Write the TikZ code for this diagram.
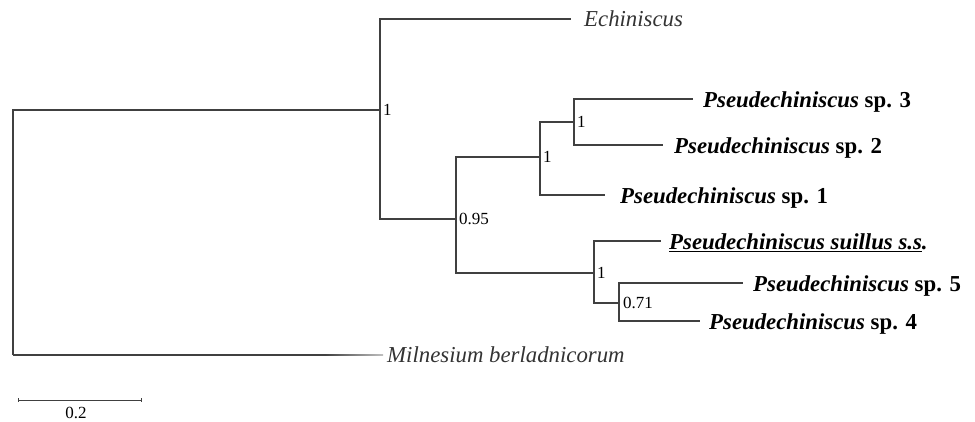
\documentclass[tikz,border=0pt]{standalone}
\usepackage{fontspec}
\setmainfont{Liberation Serif}
\begin{document}
\begin{tikzpicture}[x=1pt,y=-1pt,
  br/.style={draw=black!75,line width=1.1pt},
  taxon/.style={anchor=base west,inner sep=0pt,font=\fontsize{22.8}{27}\selectfont\bfseries},
  outg/.style={anchor=base west,inner sep=0pt,text=black!80,font=\fontsize{22.8}{27}\selectfont\itshape},
  supp/.style={anchor=west,inner sep=0pt,font=\fontsize{17}{20}\selectfont}]
\useasboundingbox (0,0) rectangle (975,421);
% internal nodes
\coordinate (r1) at (13,110);
\coordinate (r2) at (13,355);
\coordinate (A) at (380,110);
\coordinate (B) at (456,219);
\coordinate (C) at (540,157);
\coordinate (D) at (574,122);
\coordinate (E) at (594,273);
\coordinate (F) at (619,303);
% tips
\coordinate (tEch) at (571,19);
\coordinate (t3) at (693,99);
\coordinate (t2) at (663,145);
\coordinate (t1) at (605,195);
\coordinate (tS) at (661,241);
\coordinate (t5) at (743,283);
\coordinate (t4) at (700,321);
\coordinate (mfade) at (325,355);
\coordinate (tMil) at (383,355);
% branches
\draw[br] (r2) -- (r1) -- (A);
\draw[br] (A) |- (tEch);
\draw[br] (A) |- (B);
\draw[br] (B) |- (C);
\draw[br] (C) |- (D);
\draw[br] (D) |- (t3);
\draw[br] (D) |- (t2);
\draw[br] (C) |- (t1);
\draw[br] (B) |- (E);
\draw[br] (E) |- (tS);
\draw[br] (E) |- (F);
\draw[br] (F) |- (t5);
\draw[br] (F) |- (t4);
\draw[br] (r2) -- (mfade);
\shade[left color=black!75,right color=black!25] ([yshift=0.55pt]mfade) rectangle ([yshift=-0.55pt]tMil);
% support values
\node[supp] (sA) at ([xshift=3pt]A) {1};
\node[supp] (sB) at ([xshift=3pt]B) {0.95};
\node[supp] (sC) at ([xshift=3pt]C) {1};
\node[supp] (sD) at ([xshift=3pt]D) {1};
\node[supp] (sE) at ([xshift=3pt]E) {1};
\node[supp] (sF) at ([xshift=4pt]F) {0.71};
% taxon labels
\node[outg] (lEch) at ([xshift=13pt,yshift=-7.5pt]tEch) {Echiniscus};
\node[taxon] (l3) at ([xshift=10pt,yshift=-8pt]t3) {\textit{Pseudechiniscus} sp. 3};
\node[taxon] (l2) at ([xshift=11pt,yshift=-8pt]t2) {\textit{Pseudechiniscus} sp. 2};
\node[taxon] (l1) at ([xshift=15pt,yshift=-8pt]t1) {\textit{Pseudechiniscus} sp. 1};
\node[taxon] (lS) at ([xshift=8pt,yshift=-8pt]tS) {\itshape\underline{Pseudechiniscus suillus s.s}.};
\node[taxon] (l5) at ([xshift=10pt,yshift=-8pt]t5) {\textit{Pseudechiniscus} sp. 5};
\node[taxon] (l4) at ([xshift=9pt,yshift=-8pt]t4) {\textit{Pseudechiniscus} sp. 4};
\node[outg] (lMil) at ([xshift=4pt,yshift=-7.5pt]tMil) {Milnesium berladnicorum};
% scale bar
\coordinate (s0) at (18,400);
\coordinate (s1) at (141,400);
\draw[br,line width=1pt] (s0) -- (s1);
\draw[br,line width=1pt] ([yshift=2pt]s0) -- ([yshift=-2pt]s0);
\draw[br,line width=1pt] ([yshift=2pt]s1) -- ([yshift=-2pt]s1);
\node[anchor=center,inner sep=0pt,font=\fontsize{17}{20}\selectfont] (sl) at (76,413) {0.2};
\end{tikzpicture}
\end{document}
